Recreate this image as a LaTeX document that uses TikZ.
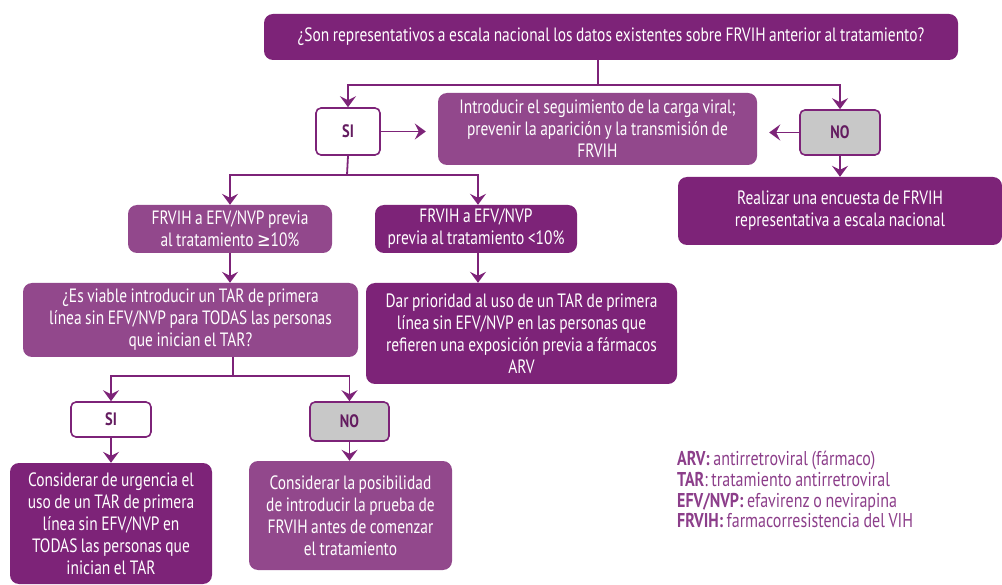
\documentclass[tikz,border=0pt]{standalone}
\usepackage{fontspec}
\setmainfont{PT Sans}[FakeStretch=0.8, WordSpace=0.85]
\newfontfamily\symf{DejaVu Sans}[FakeStretch=0.84]
\usetikzlibrary{arrows.meta}
\definecolor{dpurp}{RGB}{125,35,120}
\definecolor{lpurp}{RGB}{146,72,140}
\definecolor{gbox}{RGB}{200,200,200}
\definecolor{lgd}{RGB}{140,62,138}
\tikzset{
  box/.style={rounded corners=9pt, text=white, align=center, inner sep=0pt,
    font=\fontsize{19.3}{22}\selectfont},
  darkbox/.style={box, fill=dpurp},
  lightbox/.style={box, fill=lpurp},
  sibox/.style={draw=dpurp, line width=1.6pt, fill=white, rounded corners=5pt,
    font=\fontsize{18}{20}\selectfont\bfseries, text=dpurp!80!black, inner sep=0pt},
  nobox/.style={sibox, fill=gbox},
  conn/.style={draw=dpurp, line width=1.8pt},
  arr/.style={conn, -{Stealth[length=11pt,width=16pt,inset=4pt]}},
}
\begin{document}
\begin{tikzpicture}[x=1pt,y=-1pt]
\useasboundingbox (0,0) rectangle (1002,585);
% boxes
\node[darkbox, minimum width=694pt, minimum height=46pt] (top) at (611,37)
  {¿Son representativos a escala nacional los datos existentes sobre FRVIH anterior al tratamiento?};
\node[sibox, minimum width=64pt, minimum height=47pt] (si1) at (348,131.5) {SI};
\node[lightbox, minimum width=319pt, minimum height=72pt] (mid) at (597.5,129)
  {Introducir el seguimiento de la carga viral;\\prevenir la aparición y la transmisión de\\FRVIH};
\node[nobox, minimum width=80pt, minimum height=45pt] (no1) at (840,132.5) {NO};
\node[darkbox, minimum width=324pt, minimum height=68pt] (rea) at (840,211)
  {Realizar una encuesta de FRVIH\\representativa a escala nacional};
\node[lightbox, minimum width=204pt, minimum height=48pt] (l1) at (230,229)
  {FRVIH a EFV/NVP previa\\al tratamiento {\symf ≥}10\%};
\node[darkbox, minimum width=202pt, minimum height=48pt] (r1) at (476,229)
  {FRVIH a EFV/NVP\\previa al tratamiento <10\%};
\node[lightbox, minimum width=335pt, minimum height=74pt] (via) at (190.5,320)
  {¿Es viable introducir un TAR de primera\\línea sin EFV/NVP para TODAS las personas\\que inician el TAR?};
\node[darkbox, minimum width=311pt, minimum height=101pt] (dar) at (521.5,333.5)
  {Dar prioridad al uso de un TAR de primera\\línea sin EFV/NVP en las personas que\\refieren una exposición previa a fármacos\\ARV};
\node[sibox, minimum width=80pt, minimum height=35pt] (si2) at (111,419.5) {SI};
\node[nobox, minimum width=79pt, minimum height=39pt] (no2) at (349.5,421.5) {NO};
\node[darkbox, minimum width=202pt, minimum height=121pt] (urg) at (111,523.5)
  {Considerar de urgencia el\\uso de un TAR de primera\\línea sin EFV/NVP en\\TODAS las personas que\\inician el TAR};
\node[lightbox, minimum width=203pt, minimum height=109pt] (pos) at (350.5,515.5)
  {Considerar la posibilidad\\de introducir la prueba de\\FRVIH antes de comenzar\\el tratamiento};
% legend
\node[anchor=north west, align=left, inner sep=0pt, text=lgd,
  font=\fontsize{20}{20.7}\selectfont] (leg) at (677,451)
  {\textbf{ARV:} antirretroviral (fármaco)\\
   \textbf{TAR}: tratamiento antirretroviral\\
   \textbf{EFV/NVP:} efavirenz o nevirapina\\
   \textbf{FRVIH:} farmacorresistencia del VIH};
% connectors
\coordinate (j1) at (598,85);
\coordinate (j2) at (347,175);
\coordinate (j3) at (233,376);
\draw[conn] (top.south -| j1) -- (j1);
\draw[arr] (j1) -| (si1.north);
\draw[arr] (j1) -| (no1.north);
\draw[arr, shorten >=12pt] (si1.east) -- (mid.west |- si1.east);
\draw[arr, shorten >=12pt] (no1.west) -- (mid.east |- no1.west);
\draw[arr] (no1.south) -- (rea.north -| no1.south);
\draw[conn] (si1.south) -- (j2);
\draw[arr] (j2) -| (l1.north);
\draw[arr] (j2) -| ([xshift=2pt]r1.north);
\draw[arr] (l1.south) -- (l1.south |- via.north);
\draw[arr] ([xshift=2pt]r1.south) -- ([xshift=2pt]r1.south |- dar.north);
\draw[conn] (via.south -| j3) -- (j3);
\draw[arr] (j3) -| (si2.north);
\draw[arr] (j3) -| (no2.north);
\draw[arr] (si2.south) -- (urg.north -| si2.south);
\draw[arr] (no2.south) -- (pos.north -| no2.south);
\end{tikzpicture}
\end{document}
